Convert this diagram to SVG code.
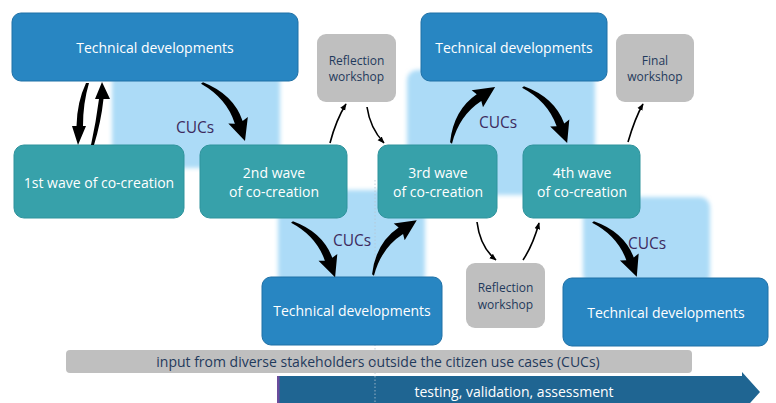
<svg xmlns="http://www.w3.org/2000/svg" width="776" height="403" viewBox="0 0 776 403">
<defs>
<style>
.bg{fill:#acdbf7;filter:url(#soft)}
.tech{fill:#2886c2;stroke:#1f70a6;stroke-width:1}
.wave{fill:#37a1aa;stroke:#2f939c;stroke-width:1}
.ws{fill:#bfbfbf}
text{font-family:"Open Sans","Noto Sans","Liberation Sans",sans-serif;text-anchor:middle}
.lt{font-size:14px;fill:#ffffff}
.dk{font-size:12px;fill:#1f3a5c}
.cuc{font-size:15.5px;fill:#3d2b5e}
.band{font-size:14px;fill:#1f3a5c}
.thin{fill:none;stroke:#000;stroke-width:1.6;marker-end:url(#ah)}
</style>
<filter id="soft" x="-10%" y="-10%" width="120%" height="120%"><feGaussianBlur stdDeviation="2"/></filter>
<marker id="ah" viewBox="0 0 10 10" refX="9" refY="5" markerUnits="userSpaceOnUse" markerWidth="7" markerHeight="7" orient="auto"><path d="M0,1 L10,5 L0,9 Z" fill="#000"/></marker>
<path id="thick" d="M0,-1.2 Q27,-18 53.1,-9.7 L53.1,-16 L70,0 L46.9,3 L50.7,-2.1 Q26,-10.5 0,1.2 Z" fill="#000"/>
</defs>
<g id="backgrounds">
<rect class="bg" x="112" y="70" width="168" height="98" rx="10"/>
<rect class="bg" x="278" y="190" width="147" height="95" rx="10"/>
<rect class="bg" x="407" y="70" width="188" height="125" rx="10"/>
<rect class="bg" x="583" y="197" width="127" height="88" rx="10"/>
</g>
<g id="input-band">
<rect x="66" y="350" width="626" height="23" rx="4" fill="#bfbfbf"/>
<text class="band" x="378" y="367">input from diverse stakeholders outside the citizen use cases (CUCs)</text>
</g>
<g id="testing-band">
<path d="M278,376 H742 V372 L760,392 L742,412 V410 H278 Z" fill="#1f6592"/>
<rect x="277" y="376" width="2.5" height="27" fill="#6a4c9c"/>
<text class="lt" x="514" y="397">testing, validation, assessment</text>
</g>
<line x1="375" y1="180" x2="375" y2="403" stroke="#b8c4d0" stroke-width="0.8" stroke-dasharray="1.5,2"/>
<g id="tech1"><rect class="tech" x="12" y="13" width="286" height="68" rx="9"/><text class="lt" x="155" y="53">Technical developments</text></g>
<g id="tech2"><rect class="tech" x="421" y="13" width="186" height="68" rx="9"/><text class="lt" x="514" y="53">Technical developments</text></g>
<g id="tech3"><rect class="tech" x="262" y="277" width="180" height="68" rx="9"/><text class="lt" x="352" y="316">Technical developments</text></g>
<g id="tech4"><rect class="tech" x="563" y="278" width="205" height="68" rx="9"/><text class="lt" x="666" y="318">Technical developments</text></g>
<g id="wave1"><rect class="wave" x="14" y="145" width="170" height="73" rx="10"/><text class="lt" x="99" y="188">1st wave of co-creation</text></g>
<g id="wave2"><rect class="wave" x="200" y="145" width="147" height="73" rx="10"/><text class="lt" x="274" y="178">2nd wave</text><text class="lt" x="274" y="197">of co-creation</text></g>
<g id="wave3"><rect class="wave" x="378" y="145" width="119" height="73" rx="10"/><text class="lt" x="438" y="178">3rd wave</text><text class="lt" x="438" y="197">of co-creation</text></g>
<g id="wave4"><rect class="wave" x="523" y="145" width="117" height="73" rx="10"/><text class="lt" x="582" y="178">4th wave</text><text class="lt" x="582" y="197">of co-creation</text></g>
<g id="reflection1"><rect class="ws" x="317" y="34" width="79" height="68" rx="9"/><text class="dk" x="356.5" y="65">Reflection</text><text class="dk" x="356.5" y="81">workshop</text></g>
<g id="final"><rect class="ws" x="616" y="34" width="78" height="68" rx="9"/><text class="dk" x="655" y="65">Final</text><text class="dk" x="655" y="81">workshop</text></g>
<g id="reflection2"><rect class="ws" x="466" y="263" width="79" height="65" rx="9"/><text class="dk" x="505.5" y="292">Reflection</text><text class="dk" x="505.5" y="309">workshop</text></g>
<g id="labels">
<text class="cuc" x="195" y="133">CUCs</text>
<text class="cuc" x="352" y="246">CUCs</text>
<text class="cuc" x="498" y="128">CUCs</text>
<text class="cuc" x="647" y="249">CUCs</text>
</g>
<g id="connectors">
<path d="M86,83 L89,83 Q83,103 83,126 L86,126 L78,145 L72,126 L76.5,126 Q77,102 86,83 Z" fill="#000"/>
<path d="M91,145 L94,145 Q101,122 103.5,99 L110,99 L102,82 L95,99 L99,99 Q96,122 91,145 Z" fill="#000"/>
<use href="#thick" transform="translate(202,83) rotate(53.4) scale(1.03)"/>
<use href="#thick" transform="translate(451,143) rotate(-51.8) scale(1.02)"/>
<use href="#thick" transform="translate(523,87) rotate(51.8) scale(1.02)"/>
<use href="#thick" transform="translate(292,222) rotate(52)"/>
<use href="#thick" transform="translate(373,275) rotate(-51.3)"/>
<use href="#thick" transform="translate(593,222) rotate(51.3)"/>
<path class="thin" d="M330,143 Q336,120 346,104"/>
<path class="thin" d="M367,107 Q370,128 384,143"/>
<path class="thin" d="M628,142 Q635,118 643,104"/>
<path class="thin" d="M477,222 Q480,247 496,260"/>
<path class="thin" d="M523,260 Q533,245 539,223"/>
</g>
</svg>
